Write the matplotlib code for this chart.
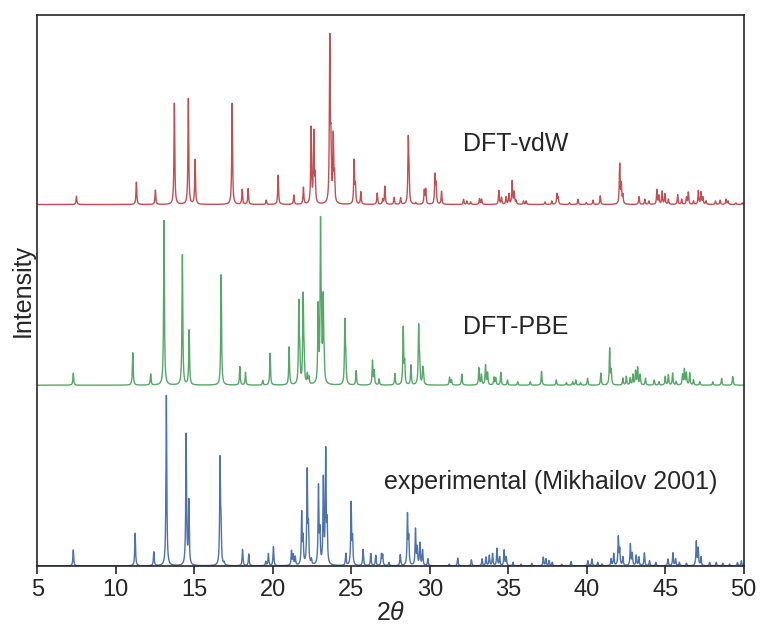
import numpy as np
import matplotlib
matplotlib.use("Agg")
import matplotlib.pyplot as plt

# ---- data: peak positions (2theta) and relative heights ----
vdw_pos = [7.49, 11.31, 12.52, 13.73, 14.62, 15.05, 17.41, 18.05, 18.43, 19.58, 20.34, 21.34,
           21.95, 22.44, 22.61, 22.70, 23.63, 23.70, 23.85, 23.93, 25.18, 25.26, 25.61, 26.65,
           27.00, 27.14, 27.73, 28.14, 28.63, 28.68, 29.10, 29.65, 29.74, 30.33, 30.40, 30.75,
           32.15, 32.37, 32.60, 33.17, 33.30, 34.40, 34.57, 34.86, 35.04, 35.25, 35.38, 35.50,
           35.97, 36.14, 37.34, 37.77, 38.10, 38.18, 38.90, 39.44, 39.97, 40.40, 40.86, 42.10,
           42.20, 42.30, 43.33, 43.70, 43.96, 44.47, 44.60, 44.80, 44.98, 45.20, 45.79, 46.05,
           46.35, 46.47, 46.80, 47.11, 47.28, 47.40, 47.60, 48.20, 48.50, 48.87, 49.00, 49.50,
           49.90]
vdw_int = [0.048, 0.13, 0.083, 0.59, 0.615, 0.26, 0.59, 0.087, 0.092, 0.025, 0.17, 0.054,
           0.098, 0.44, 0.41, 0.15, 0.94, 0.30, 0.38, 0.15, 0.25, 0.10, 0.073, 0.066,
           0.03, 0.105, 0.04, 0.037, 0.36, 0.15, 0.01, 0.08, 0.085, 0.165, 0.11, 0.075,
           0.03, 0.02, 0.015, 0.033, 0.03, 0.08, 0.04, 0.042, 0.06, 0.135, 0.07, 0.02,
           0.02, 0.02, 0.015, 0.02, 0.06, 0.04, 0.01, 0.03, 0.01, 0.025, 0.05, 0.23,
           0.11, 0.05, 0.046, 0.03, 0.02, 0.085, 0.05, 0.075, 0.06, 0.03, 0.056, 0.03,
           0.04, 0.07, 0.02, 0.08, 0.07, 0.04, 0.02, 0.02, 0.025, 0.03, 0.02, 0.01,
           0.01]

pbe_pos = [7.29, 11.08, 12.22, 13.07, 14.24, 14.67, 16.71, 17.90, 18.26, 19.36, 19.83, 21.04,
           21.66, 21.72, 21.93, 21.99, 22.20, 22.30, 22.89, 23.04, 23.10, 23.21, 23.27, 24.59,
           24.65, 25.31, 26.35, 26.46, 26.77, 27.78, 28.31, 28.40, 28.80, 29.29, 29.35, 29.55,
           29.60, 31.26, 31.38, 32.04, 33.13, 33.29, 33.55, 33.68, 34.09, 34.20, 34.53, 34.95,
           35.60, 36.40, 37.12, 38.06, 38.70, 39.10, 39.30, 39.60, 40.05, 40.90, 41.46, 41.56,
           42.30, 42.52, 42.77, 42.94, 43.11, 43.24, 43.40, 43.74, 44.30, 44.60, 45.00, 45.20,
           45.47, 45.70, 46.10, 46.22, 46.35, 46.56, 46.80, 47.20, 48.03, 48.59, 49.30]
pbe_int = [0.07, 0.188, 0.064, 0.96, 0.757, 0.32, 0.645, 0.107, 0.074, 0.027, 0.186, 0.22,
           0.46, 0.15, 0.50, 0.15, 0.058, 0.04, 0.44, 0.89, 0.28, 0.47, 0.12, 0.36,
           0.14, 0.083, 0.14, 0.08, 0.035, 0.066, 0.33, 0.12, 0.115, 0.33, 0.12, 0.09,
           0.05, 0.045, 0.03, 0.064, 0.10, 0.06, 0.115, 0.07, 0.045, 0.04, 0.074, 0.03,
           0.02, 0.02, 0.08, 0.03, 0.015, 0.02, 0.03, 0.015, 0.04, 0.07, 0.21, 0.08,
           0.04, 0.05, 0.04, 0.06, 0.08, 0.10, 0.06, 0.04, 0.03, 0.02, 0.05, 0.06,
           0.07, 0.02, 0.06, 0.09, 0.07, 0.07, 0.03, 0.02, 0.02, 0.04, 0.05]

exp_pos = [7.29, 11.23, 12.42, 13.22, 14.48, 14.65, 16.64, 16.70, 16.90, 18.07, 18.47, 19.55,
           19.72, 20.04, 21.19, 21.30, 21.43, 21.84, 21.93, 22.19, 22.27, 22.46, 22.91, 23.00,
           23.22, 23.37, 23.46, 24.65, 24.99, 25.08, 25.75, 26.24, 26.56, 26.92, 27.00, 27.40,
           28.12, 28.58, 28.66, 29.09, 29.20, 29.37, 29.54, 29.88, 31.24, 31.78, 32.65, 33.33,
           33.58, 33.79, 34.00, 34.28, 34.45, 34.74, 34.87, 35.30, 35.80, 36.50, 37.23, 37.40,
           37.60, 37.80, 38.40, 39.00, 40.07, 40.33, 40.70, 40.96, 41.55, 41.72, 42.01, 42.10,
           42.30, 42.78, 42.90, 43.15, 43.32, 43.67, 44.00, 44.40, 45.17, 45.49, 45.66, 45.90,
           46.35, 46.98, 47.10, 47.28, 47.83, 48.25, 48.67, 49.10, 49.60, 49.85]
exp_int = [0.093, 0.19, 0.08, 0.99, 0.76, 0.37, 0.60, 0.20, 0.015, 0.095, 0.068, 0.025,
           0.07, 0.11, 0.085, 0.06, 0.05, 0.30, 0.15, 0.54, 0.20, 0.03, 0.45, 0.18,
           0.49, 0.65, 0.22, 0.07, 0.36, 0.15, 0.095, 0.07, 0.06, 0.065, 0.06, 0.02,
           0.064, 0.29, 0.15, 0.21, 0.10, 0.13, 0.09, 0.04, 0.01, 0.045, 0.035, 0.04,
           0.05, 0.06, 0.07, 0.10, 0.05, 0.09, 0.05, 0.02, 0.01, 0.015, 0.05, 0.04,
           0.03, 0.02, 0.01, 0.025, 0.03, 0.04, 0.02, 0.01, 0.04, 0.07, 0.165, 0.09,
           0.05, 0.125, 0.07, 0.06, 0.05, 0.075, 0.03, 0.02, 0.04, 0.075, 0.04, 0.02,
           0.015, 0.14, 0.10, 0.05, 0.02, 0.02, 0.015, 0.01, 0.02, 0.03]

series_names = ["experimental (Mikhailov 2001)", "DFT-PBE", "DFT-vdW"]
label_x = [27.1, 32.1, 32.1]
label_y = [0.49, 1.39, 2.45]
offsets = [0.0, 1.05, 2.10]
colors = ["#4C72B0", "#55A868", "#C44E52"]

plt.rcParams['font.family'] = ['Liberation Sans', 'DejaVu Sans']
plt.rcParams['mathtext.fontset'] = 'custom'
plt.rcParams['mathtext.it'] = 'Liberation Sans:italic'
plt.rcParams['mathtext.rm'] = 'Liberation Sans'

tt = np.arange(5.0, 50.0001, 0.004)


def pattern(pos, inten, hw=0.03):
    y = np.zeros_like(tt)
    for p, h in zip(pos, inten):
        y += h / (1.0 + ((tt - p) / hw) ** 2)
    return y


fig = plt.figure(figsize=(7.62, 6.33), dpi=100)
ax = fig.add_axes([0.049, 0.106, 0.927, 0.870])

data = [(exp_pos, exp_int), (pbe_pos, pbe_int), (vdw_pos, vdw_int)]
for (pos, inten), off, c, name, lx, ly in zip(data, offsets, colors, series_names, label_x, label_y):
    ax.plot(tt, pattern(pos, inten) + off, color=c, lw=1.0)
    ax.text(lx, ly, name, fontsize=18, color="#262626", va="center", ha="left")

ax.set_xlim(5, 50)
ax.set_ylim(0, 3.2)
ax.set_xticks(np.arange(5, 51, 5))
ax.set_yticks([])
ax.tick_params(axis='x', direction='out', length=6, width=1.2, labelsize=17, colors="#262626")
for s in ax.spines.values():
    s.set_color("#262626")
    s.set_linewidth(1.2)
ax.set_xlabel(r"2$\it{\theta}$", fontsize=18, color="#262626", labelpad=0)
ax.set_ylabel("Intensity", fontsize=18, color="#262626", labelpad=2)

fig.savefig("out.png", dpi=100)
